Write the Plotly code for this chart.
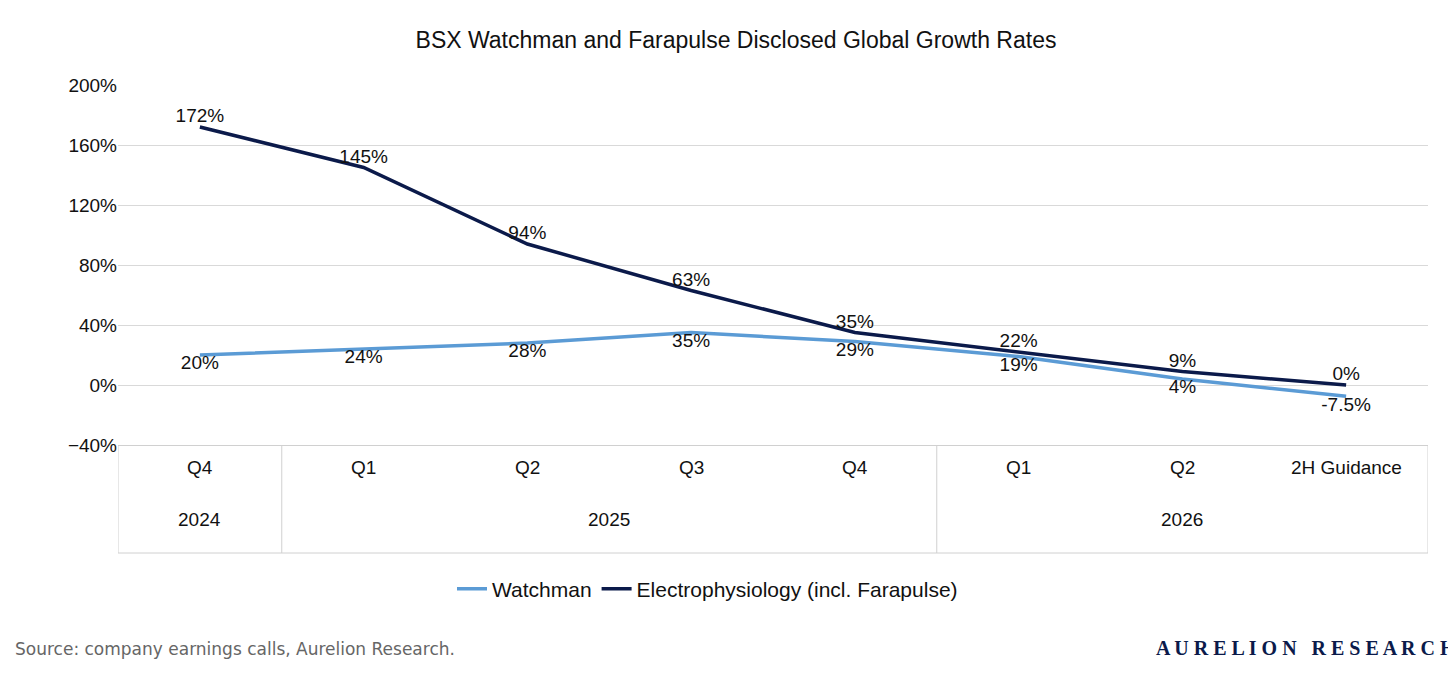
import plotly.graph_objects as go

quarters = ["Q4", "Q1", "Q2", "Q3", "Q4", "Q1", "Q2", "2H Guidance"]
years = ["2024", "2025", "2026"]
year_spans = [(0, 0), (1, 4), (5, 7)]
watchman = [20, 24, 28, 35, 29, 19, 4, -7.5]
ep = [172, 145, 94, 63, 35, 22, 9, 0]
watch_lbl = ["20%", "24%", "28%", "35%", "29%", "19%", "4%", "-7.5%"]
ep_lbl = ["172%", "145%", "94%", "63%", "35%", "22%", "9%", "0%"]

x = list(range(len(quarters)))
F = "Liberation Sans"
fig = go.Figure()
fig.add_trace(go.Scatter(x=x, y=watchman, mode="lines+text", name="Watchman",
    line=dict(color="#5B9BD5", width=3.5), text=watch_lbl, textposition="bottom center",
    textfont=dict(size=19, color="#111")))
fig.add_trace(go.Scatter(x=x, y=ep, mode="lines+text", name="Electrophysiology (incl. Farapulse)",
    line=dict(color="#0B1A4A", width=3.5), text=ep_lbl, textposition="top center",
    textfont=dict(size=19, color="#111")))

ann = []
for i, q in enumerate(quarters):
    ann.append(dict(x=i, y=-0.097, xref="x", yref="paper", text=q, showarrow=False,
                    font=dict(size=19, color="#111")))
for yl, (a, b) in zip(years, year_spans):
    ann.append(dict(x=(a + b) / 2, y=-0.242, xref="x", yref="paper", text=yl, showarrow=False,
                    font=dict(size=19, color="#111")))
ann.append(dict(x=-0.08, xref="paper", xanchor="left", y=-0.6, yref="paper",
                text="Source: company earnings calls, Aurelion Research.", showarrow=False,
                font=dict(size=17, color="#666", family="DejaVu Sans")))
ann.append(dict(x=1.023, xref="paper", xanchor="right", y=-0.6, yref="paper",
                text="<b>A U R E L I O N   R E S E A R C H</b>", showarrow=False,
                font=dict(size=20, color="#0B1A4A", family="Liberation Serif")))
shapes = []
bounds = [-0.5] + [b + 0.5 for _, b in year_spans]
for bx in bounds:
    shapes.append(dict(type="line", xref="x", yref="paper", x0=bx, x1=bx, y0=0, y1=-0.3,
                       line=dict(color="#D0D0D0", width=1)))
shapes.append(dict(type="line", xref="x", yref="paper", x0=-0.5, x1=7.5, y0=-0.3, y1=-0.3,
                   line=dict(color="#D0D0D0", width=1)))

fig.update_layout(
    width=1456, height=678, paper_bgcolor="white", plot_bgcolor="white",
    margin=dict(l=110, r=36, t=77, b=241),
    font=dict(family=F, size=19, color="#111"),
    title=dict(text="BSX Watchman and Farapulse Disclosed Global Growth Rates", x=0.5, y=0.965,
               xanchor="center", font=dict(size=23, color="#111")),
    xaxis=dict(range=[-0.5, 7.5], showticklabels=False, showgrid=False, zeroline=False,
               showline=True, linecolor="#D0D0D0"),
    yaxis=dict(range=[-40, 200], dtick=40, ticksuffix="%", gridcolor="#D9D9D9",
               zeroline=False, showline=False, tickfont=dict(size=19, color="#111")),
    legend=dict(orientation="h", x=0.45, xanchor="center", y=-0.4, yanchor="middle",
                font=dict(size=21, color="#111")),
    annotations=ann,
    shapes=shapes,
)
fig.write_html("out.html")
